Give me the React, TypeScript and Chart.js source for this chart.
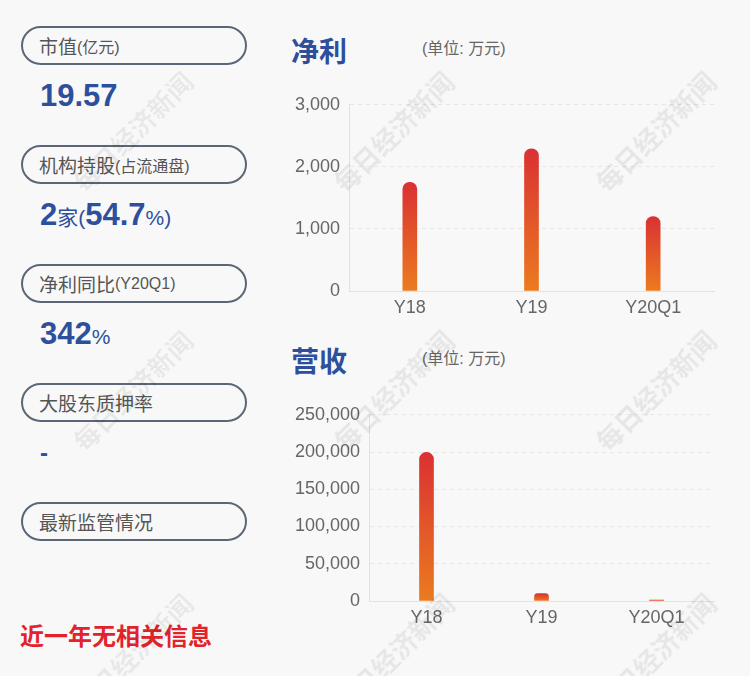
import React, { useEffect, useRef } from "react";
import { Chart, registerables } from "chart.js";

Chart.register(...registerables);

const categories = ["Y18", "Y19", "Y20Q1"];
const netProfit = [1750, 2290, 1200];
const revenue = [199500, 10000, 1300];
const netProfitMax = 3000;
const netProfitStep = 1000;
const revenueMax = 250000;
const revenueStep = 50000;

const FONT = "'Liberation Sans', 'Noto Sans CJK SC', sans-serif";
const BLUE = "#2e4f9b";

type BarProps = {
  labels: string[];
  values: number[];
  max: number;
  step: number;
  yWidth: number;
  style: React.CSSProperties;
};

function BarChart({ labels, values, max, step, yWidth, style }: BarProps) {
  const ref = useRef<HTMLCanvasElement | null>(null);
  useEffect(() => {
    if (!ref.current) return;
    const chart = new Chart(ref.current, {
      type: "bar",
      data: {
        labels,
        datasets: [
          {
            data: values,
            barThickness: 14,
            borderRadius: { topLeft: 7, topRight: 7, bottomLeft: 0, bottomRight: 0 },
            borderSkipped: "start",
            backgroundColor: (ctx: any) => {
              const ch = ctx.chart;
              const sc = ch.scales && ch.scales.y;
              if (!ch.chartArea || !sc || typeof ctx.raw !== "number") return "#e05a28";
              const top = sc.getPixelForValue(ctx.raw);
              const base = sc.getPixelForValue(0);
              if (!isFinite(top) || !isFinite(base) || Math.abs(base - top) < 0.5) return "#e05a28";
              const g = ch.ctx.createLinearGradient(0, top, 0, base);
              g.addColorStop(0, "#da3133");
              g.addColorStop(1, "#eb7b1f");
              return g;
            },
          },
        ],
      },
      options: {
        animation: false,
        responsive: false,
        maintainAspectRatio: false,
        layout: { padding: { top: 9, right: 16, bottom: 0, left: 0 } },
        plugins: { legend: { display: false }, tooltip: { enabled: false } },
        scales: {
          x: {
            grid: { display: false, drawTicks: false },
            border: { display: true, color: "#e2e2e2", width: 1 },
            ticks: { color: "#666", font: { family: FONT, size: 18 }, padding: 6 },
            afterFit: (s: any) => {
              s.height = 29;
            },
          },
          y: {
            min: 0,
            max,
            grid: { color: "#e6e6e6", drawTicks: false },
            border: { display: true, color: "#e2e2e2", width: 1, dash: [4, 4] } as any,
            ticks: {
              stepSize: step,
              color: "#666",
              font: { family: FONT, size: 18 },
              padding: 9,
              callback: (v: any) => Number(v).toLocaleString("en-US"),
            },
            afterFit: (s: any) => {
              s.width = yWidth;
            },
          },
        },
      } as any,
    });
    return () => chart.destroy();
  }, []);
  return (
    <canvas
      ref={ref}
      width={450}
      height={235}
      style={{ position: "absolute", width: 450, height: 235, ...style }}
    />
  );
}

function Pill({ top, main, sub }: { top: number; main: string; sub?: string }) {
  return (
    <div
      style={{
        position: "absolute",
        left: 21,
        top,
        width: 226,
        height: 39,
        border: "2px solid #5b6777",
        borderRadius: 20,
        display: "flex",
        alignItems: "center",
        paddingLeft: 16,
        color: "#555",
        fontFamily: FONT,
        boxSizing: "border-box",
      }}
    >
      <span style={{ fontSize: 19 }}>{main}</span>
      {sub ? <span style={{ fontSize: 16 }}>{sub}</span> : null}
    </div>
  );
}

function Watermark({ cx, cy }: { cx: number; cy: number }) {
  return (
    <div
      style={{
        position: "absolute",
        left: cx,
        top: cy,
        transform: "translate(-50%, -50%) rotate(-45deg)",
        whiteSpace: "nowrap",
        fontFamily: "'Noto Sans CJK SC', sans-serif",
        fontWeight: 700,
        fontSize: 26,
        color: "rgba(0,0,0,0.07)",
        pointerEvents: "none",
      }}
    >
      每日经济新闻
    </div>
  );
}

export default function App() {
  const wmX = [132, 393, 655];
  const wmY = [131, 390, 653];
  const big: React.CSSProperties = { fontSize: 31, fontWeight: 700 };
  const small: React.CSSProperties = { fontSize: 21 };
  return (
    <div
      style={{
        position: "fixed",
        left: 0,
        top: 0,
        width: 750,
        height: 676,
        background: "#f8f8f8",
        overflow: "hidden",
        fontFamily: FONT,
      }}
    >
      <Pill top={26} main="市值" sub="(亿元)" />
      <Pill top={145} main="机构持股" sub="(占流通盘)" />
      <Pill top={264} main="净利同比" sub="(Y20Q1)" />
      <Pill top={383} main="大股东质押率" />
      <Pill top={502} main="最新监管情况" />

      <div style={{ position: "absolute", left: 40, top: 76, color: BLUE, lineHeight: "40px" }}>
        <span style={big}>19.57</span>
      </div>
      <div style={{ position: "absolute", left: 40, top: 195, color: BLUE, lineHeight: "40px" }}>
        <span style={big}>2</span>
        <span style={small}>家(</span>
        <span style={big}>54.7</span>
        <span style={small}>%)</span>
      </div>
      <div style={{ position: "absolute", left: 40, top: 314, color: BLUE, lineHeight: "40px" }}>
        <span style={big}>342</span>
        <span style={small}>%</span>
      </div>
      <div style={{ position: "absolute", left: 40, top: 433, color: BLUE, lineHeight: "40px" }}>
        <span style={{ fontSize: 24, fontWeight: 700 }}>-</span>
      </div>
      <div
        style={{
          position: "absolute",
          left: 20,
          top: 618,
          color: "#e3232b",
          fontSize: 24,
          fontWeight: 700,
          lineHeight: "34px",
          fontFamily: "'Noto Sans CJK SC', sans-serif",
        }}
      >
        近一年无相关信息
      </div>

      <div style={{ position: "absolute", left: 291, top: 32, color: BLUE, fontSize: 28, fontWeight: 700, lineHeight: "36px", fontFamily: "'Noto Sans CJK SC', sans-serif" }}>
        净利
      </div>
      <div style={{ position: "absolute", left: 422, top: 39, color: "#666", fontSize: 16, lineHeight: "20px" }}>
        (单位: 万元)
      </div>
      <BarChart labels={categories} values={netProfit} max={netProfitMax} step={netProfitStep} yWidth={69} style={{ left: 280, top: 85 }} />

      <div style={{ position: "absolute", left: 291, top: 342, color: BLUE, fontSize: 28, fontWeight: 700, lineHeight: "36px", fontFamily: "'Noto Sans CJK SC', sans-serif" }}>
        营收
      </div>
      <div style={{ position: "absolute", left: 422, top: 349, color: "#666", fontSize: 16, lineHeight: "20px" }}>
        (单位: 万元)
      </div>
      <BarChart labels={categories} values={revenue} max={revenueMax} step={revenueStep} yWidth={89} style={{ left: 280, top: 395 }} />

      {wmY.map((y) => wmX.map((x) => <Watermark key={x + "-" + y} cx={x} cy={y} />))}
    </div>
  );
}
